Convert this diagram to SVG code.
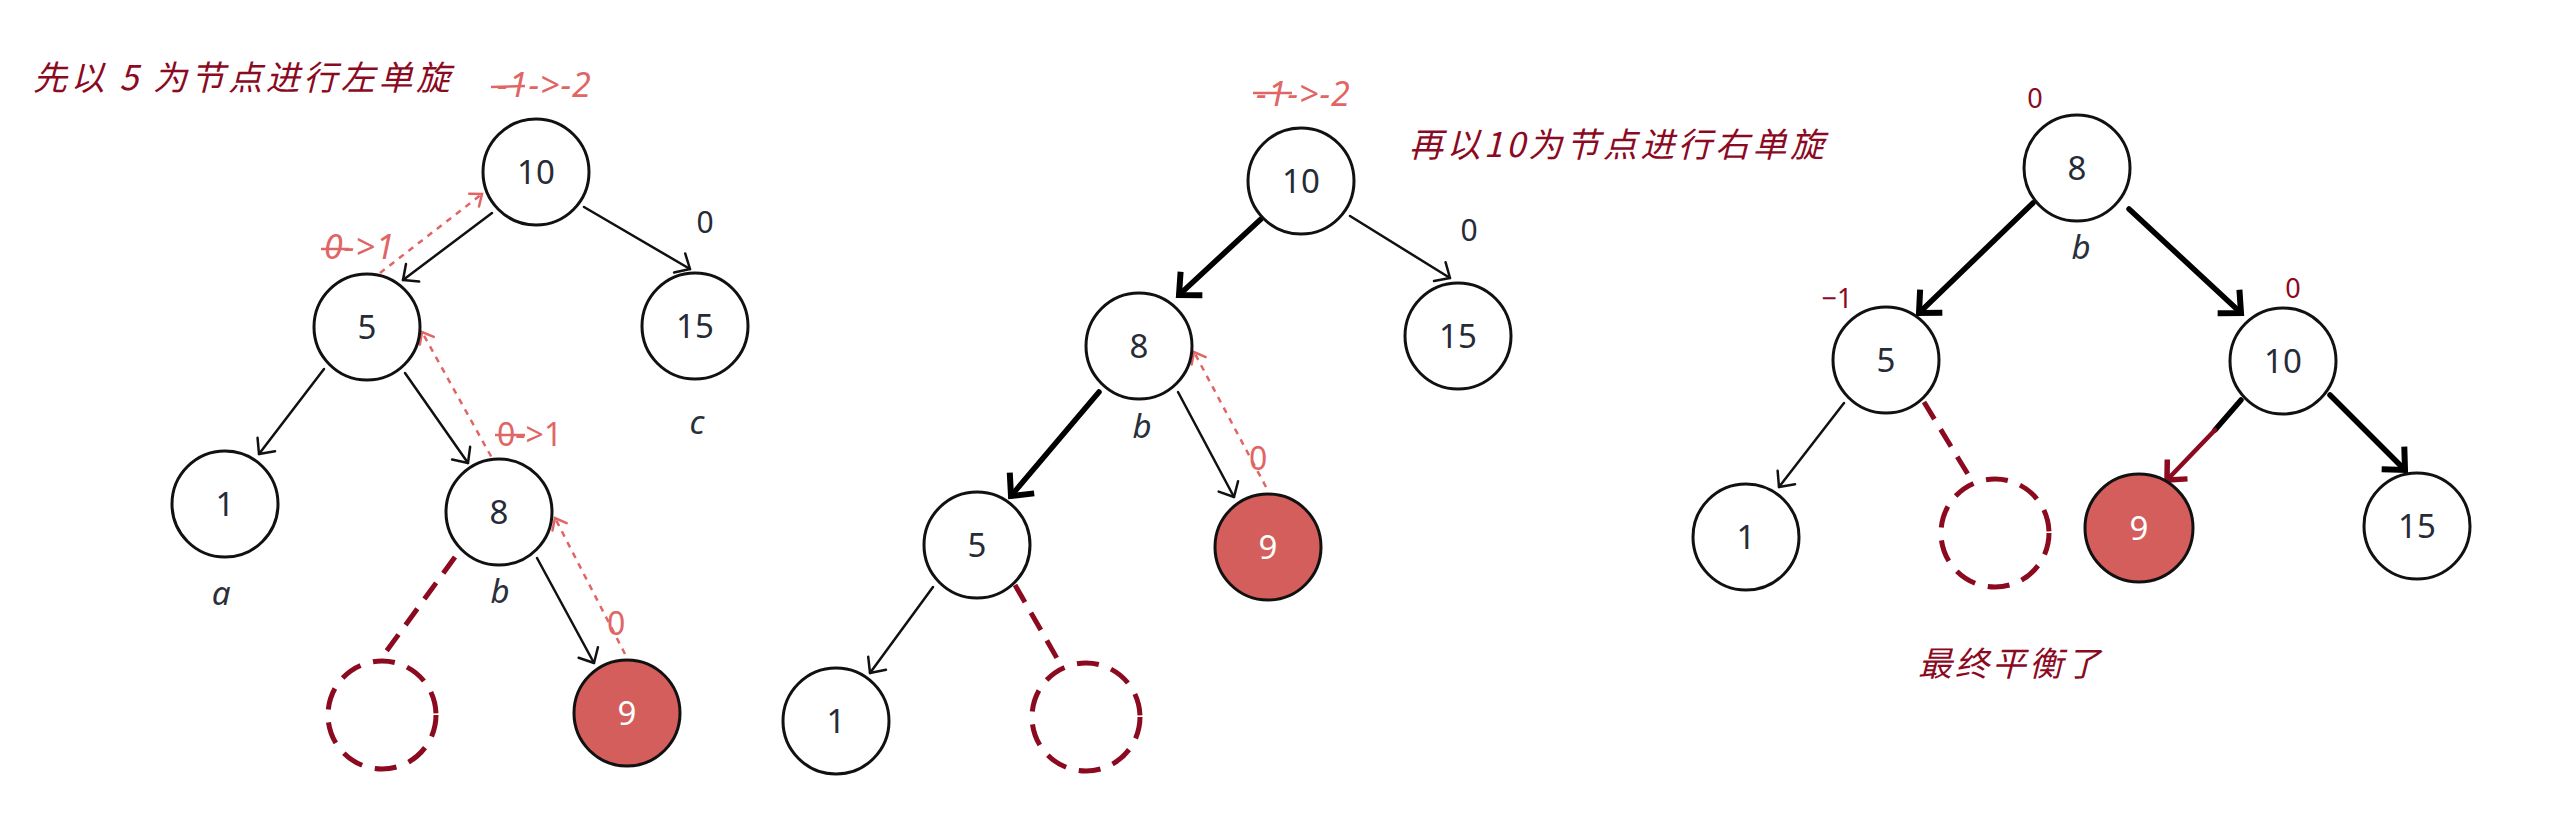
<svg xmlns="http://www.w3.org/2000/svg" width="2569" height="832" viewBox="0 0 2569 832">
<style>
.node{fill:#fff;stroke:#111;stroke-width:3}
.hot{fill:#d35e5b;stroke:#111;stroke-width:3}
.ghost{fill:none;stroke:#8b0a1f;stroke-width:5;stroke-dasharray:22 13}
.num{font-family:"Noto Sans","Open Sans",sans-serif;font-size:33px;fill:#262b36;text-anchor:middle}
.numw{font-family:"Noto Sans","Open Sans",sans-serif;font-size:33px;fill:#fff;text-anchor:middle}
.lab{font-family:"Noto Sans","Open Sans",sans-serif;font-style:italic;font-size:33px;fill:#2a2f3a;text-anchor:middle}
.blk{font-family:"Noto Sans","Open Sans",sans-serif;font-size:30px;fill:#262b36;text-anchor:middle}
.red{font-family:"Noto Sans","Open Sans",sans-serif;font-style:italic;font-size:34px;fill:#e06666;letter-spacing:1px}
.redu{font-family:"Noto Sans","Open Sans",sans-serif;font-size:32px;fill:#e06666}
.dred{font-family:"Noto Sans","Open Sans",sans-serif;font-size:27px;fill:#8b0a1f;text-anchor:middle}
.title{font-family:"Noto Sans CJK SC","Noto Sans",sans-serif;font-size:34px;fill:#8b0a1f;font-style:italic}
.strike{stroke:#e06666;stroke-width:2.5}
.e{fill:none;stroke:#111;stroke-width:2.5;stroke-linecap:round}
.ek{fill:none;stroke:#000;stroke-width:5.5;stroke-linecap:round}
.eg{fill:none;stroke:#8b0a1f;stroke-width:5;stroke-dasharray:20 12}
.ed{fill:none;stroke:#e06666;stroke-width:2.5;stroke-dasharray:6 6}
.er{fill:none;stroke:#8b0a1f;stroke-width:4.5;stroke-linecap:round}
</style>
<defs>
<marker id="at" markerUnits="userSpaceOnUse" markerWidth="30" markerHeight="30" refX="0" refY="0" orient="auto" overflow="visible">
<path d="M-12,-11 L0,0 L-12,11" fill="none" stroke="#111" stroke-width="2.5" stroke-linecap="round" stroke-linejoin="round"/>
</marker>
<marker id="ak" markerUnits="userSpaceOnUse" markerWidth="40" markerHeight="40" refX="0" refY="0" orient="auto" overflow="visible">
<path d="M-17,-16 L0,0 L-17,16" fill="none" stroke="#000" stroke-width="6" stroke-linejoin="miter"/>
</marker>
<marker id="ad" markerUnits="userSpaceOnUse" markerWidth="30" markerHeight="30" refX="0" refY="0" orient="auto" overflow="visible">
<path d="M-10,-8 L0,0 L-10,8" fill="none" stroke="#e06666" stroke-width="2.5" stroke-linecap="round"/>
</marker>
<marker id="ar" markerUnits="userSpaceOnUse" markerWidth="40" markerHeight="40" refX="0" refY="0" orient="auto" overflow="visible">
<path d="M-15,-14 L0,0 L-15,14" fill="none" stroke="#8b0a1f" stroke-width="5.5"/>
</marker>
</defs>

<g id="titles">
<text class="title" x="33" y="90" textLength="417" lengthAdjust="spacing">先以 5 为节点进行左单旋</text>
<text class="title" x="1409" y="157" textLength="415" lengthAdjust="spacing">再以10为节点进行右单旋</text>
<text class="title" x="1918" y="676" textLength="182" lengthAdjust="spacing">最终平衡了</text>
</g>

<g id="connectors">
<line class="e" x1="492" y1="213" x2="403" y2="280" marker-end="url(#at)"/>
<line class="e" x1="584" y1="207" x2="690" y2="269" marker-end="url(#at)"/>
<line class="e" x1="324" y1="369" x2="259" y2="454" marker-end="url(#at)"/>
<line class="e" x1="405" y1="373" x2="468" y2="463" marker-end="url(#at)"/>
<line class="e" x1="537" y1="558" x2="594" y2="663" marker-end="url(#at)"/>
<line class="eg" x1="455" y1="557" x2="380" y2="660"/>
<line class="ed" x1="380" y1="273" x2="482" y2="194" marker-end="url(#ad)"/>
<line class="ed" x1="497" y1="467" x2="422" y2="332" marker-end="url(#ad)"/>
<line class="ed" x1="625" y1="654" x2="555" y2="518" marker-end="url(#ad)"/>
<line class="ek" x1="1261" y1="219" x2="1179" y2="295" marker-end="url(#ak)"/>
<line class="e" x1="1350" y1="216" x2="1450" y2="278" marker-end="url(#at)"/>
<line class="ek" x1="1099" y1="392" x2="1011" y2="496" marker-end="url(#ak)"/>
<line class="e" x1="1178" y1="392" x2="1234" y2="497" marker-end="url(#at)"/>
<line class="e" x1="933" y1="587" x2="870" y2="673" marker-end="url(#at)"/>
<line class="eg" x1="1015" y1="585" x2="1058" y2="660"/>
<line class="ed" x1="1266" y1="487" x2="1194" y2="352" marker-end="url(#ad)"/>
<line class="ek" x1="2033" y1="203" x2="1919" y2="313" marker-end="url(#ak)"/>
<line class="ek" x1="2129" y1="209" x2="2241" y2="313" marker-end="url(#ak)"/>
<line class="e" x1="1844" y1="403" x2="1779" y2="487" marker-end="url(#at)"/>
<line class="eg" x1="1924" y1="402" x2="1969" y2="476"/>
<line class="ek" x1="2241" y1="400" x2="2215" y2="430"/>
<line class="er" x1="2215" y1="430" x2="2167" y2="480" marker-end="url(#ar)"/>
<line class="ek" x1="2330" y1="395" x2="2405" y2="470" marker-end="url(#ak)"/>
</g>

<g id="p1-n10"><circle class="node" cx="536" cy="172" r="53"/><text class="num" x="536" y="184">10</text></g>
<g id="p1-n5"><circle class="node" cx="367" cy="327" r="53"/><text class="num" x="367" y="339">5</text></g>
<g id="p1-n15"><circle class="node" cx="695" cy="326" r="53"/><text class="num" x="695" y="338">15</text></g>
<g id="p1-n1"><circle class="node" cx="225" cy="504" r="53"/><text class="num" x="225" y="516">1</text></g>
<g id="p1-n8"><circle class="node" cx="499" cy="512" r="53"/><text class="num" x="499" y="524">8</text></g>
<g id="p1-n9"><circle class="hot" cx="627" cy="713" r="53"/><text class="numw" x="627" y="725">9</text></g>
<g id="p1-empty"><circle class="ghost" cx="382" cy="715" r="54"/></g>
<g id="p1-labels">
<text class="lab" x="221" y="605">a</text>
<text class="lab" x="500" y="603">b</text>
<text class="lab" x="697" y="434">c</text>
<text class="blk" x="705" y="233">0</text>
<text class="red" x="497" y="97">-1-&gt;-2</text>
<line class="strike" x1="491" y1="87" x2="525" y2="86"/>
<text class="red" x="324" y="259">0-&gt;1</text>
<line class="strike" x1="321" y1="249" x2="349" y2="249"/>
<text class="redu" x="497" y="446">0-&gt;1</text>
<line class="strike" x1="495" y1="435" x2="525" y2="435"/>
<text class="redu" x="607" y="635">0</text>
</g>

<g id="p2-n10"><circle class="node" cx="1301" cy="181" r="53"/><text class="num" x="1301" y="193">10</text></g>
<g id="p2-n15"><circle class="node" cx="1458" cy="336" r="53"/><text class="num" x="1458" y="348">15</text></g>
<g id="p2-n8"><circle class="node" cx="1139" cy="346" r="53"/><text class="num" x="1139" y="358">8</text></g>
<g id="p2-n5"><circle class="node" cx="977" cy="545" r="53"/><text class="num" x="977" y="557">5</text></g>
<g id="p2-n9"><circle class="hot" cx="1268" cy="547" r="53"/><text class="numw" x="1268" y="559">9</text></g>
<g id="p2-n1"><circle class="node" cx="836" cy="721" r="53"/><text class="num" x="836" y="733">1</text></g>
<g id="p2-empty"><circle class="ghost" cx="1086" cy="717" r="54"/></g>
<g id="p2-labels">
<text class="lab" x="1142" y="438">b</text>
<text class="blk" x="1469" y="241">0</text>
<text class="red" x="1256" y="106">-1-&gt;-2</text>
<line class="strike" x1="1253" y1="93" x2="1292" y2="93"/>
<text class="redu" x="1249" y="470">0</text>
</g>

<g id="p3-n8"><circle class="node" cx="2077" cy="168" r="53"/><text class="num" x="2077" y="180">8</text></g>
<g id="p3-n5"><circle class="node" cx="1886" cy="360" r="53"/><text class="num" x="1886" y="372">5</text></g>
<g id="p3-n10"><circle class="node" cx="2283" cy="361" r="53"/><text class="num" x="2283" y="373">10</text></g>
<g id="p3-n1"><circle class="node" cx="1746" cy="537" r="53"/><text class="num" x="1746" y="549">1</text></g>
<g id="p3-n9"><circle class="hot" cx="2139" cy="528" r="54"/><text class="numw" x="2139" y="540">9</text></g>
<g id="p3-n15"><circle class="node" cx="2417" cy="526" r="53"/><text class="num" x="2417" y="538">15</text></g>
<g id="p3-empty"><circle class="ghost" cx="1995" cy="533" r="54"/></g>
<g id="p3-labels">
<text class="lab" x="2081" y="259">b</text>
<text class="dred" x="2035" y="108">0</text>
<text class="dred" x="1837" y="308">−1</text>
<text class="dred" x="2293" y="298">0</text>
</g>
</svg>
